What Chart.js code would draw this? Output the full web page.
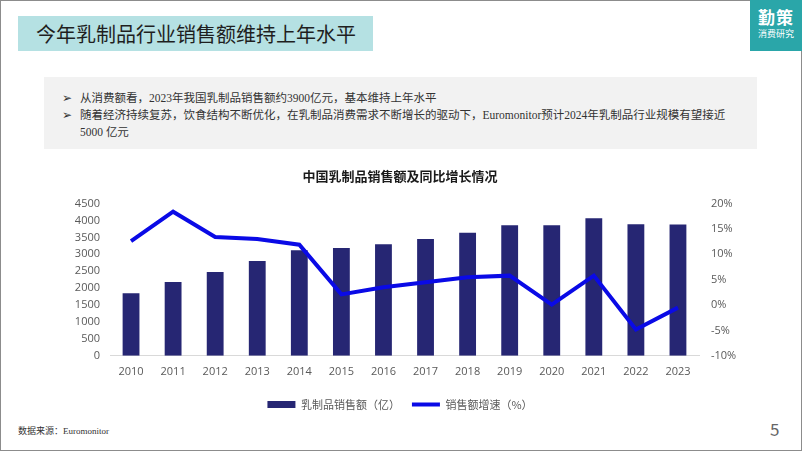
<!DOCTYPE html>
<html>
<head>
<meta charset="utf-8">
<script src="https://cdn.jsdelivr.net/npm/chart.js@4"></script>
<style>
  body { margin: 0; width: 802px; height: 451px; overflow: hidden; background: #fff; font-family: "Noto Sans CJK SC", sans-serif; }
  .slide { position: absolute; left: 0; top: 0; width: 800px; height: 449px; border: 1px solid #8c8c8c; }
  .head { position: absolute; left: 18px; top: 16px; width: 355px; height: 35px; background: #b5e1e3; color: #1f1f1f; font-size: 20px; line-height: 35px; padding-left: 18px; box-sizing: border-box; }
  .logo { position: absolute; left: 750px; top: 0; width: 52px; height: 51px; background: #2aa6a9; color: #fff; text-align: center; }
  .logo b { display: block; font-size: 17px; line-height: 20px; margin-top: 7px; letter-spacing: 1px; }
  .logo span { display: block; font-size: 9px; line-height: 14px; }
  .box { position: absolute; left: 44px; top: 77px; width: 713px; height: 72px; background: #f2f2f2; font-family: "Liberation Serif", "Noto Sans CJK SC", serif; font-size: 11.5px; color: #333; }
  .box p { margin: 0; position: absolute; left: 36px; line-height: 17px; }
  .box i { font-style: normal; position: absolute; left: -18px; }
  .src { position: absolute; left: 18px; top: 424px; font-size: 9px; color: #333; font-family: "Liberation Serif", "Noto Sans CJK SC", serif; }
  .pg { position: absolute; left: 770px; top: 416px; font-size: 17px; color: #666; }
  #wrap { position: absolute; left: 40px; top: 160px; width: 720px; height: 260px; }
</style>
</head>
<body>
<div class="slide"></div>
<div class="head">今年乳制品行业销售额维持上年水平</div>
<div class="logo"><b>勤策</b><span>消费研究</span></div>
<div class="box">
  <p style="top:13px"><i>➢</i>从消费额看，2023年我国乳制品销售额约3900亿元，基本维持上年水平</p>
  <p style="top:30px"><i>➢</i>随着经济持续复苏，饮食结构不断优化，在乳制品消费需求不断增长的驱动下，Euromonitor预计2024年乳制品行业规模有望接近<br>5000 亿元</p>
</div>
<div id="wrap"><canvas id="salesChart"></canvas></div>
<div class="src">数据来源：Euromonitor</div>
<div class="pg">5</div>
<script>
const years = ["2010","2011","2012","2013","2014","2015","2016","2017","2018","2019","2020","2021","2022","2023"];
const sales = [1850, 2180, 2480, 2800, 3120, 3190, 3300, 3450, 3640, 3860, 3860, 4070, 3890, 3880];
const growth = [12.6, 18.4, 13.4, 13.0, 11.9, 2.1, 3.5, 4.5, 5.5, 5.8, 0.1, 5.8, -4.8, -0.5];
const salesLabel = "乳制品销售额（亿）";
const growthLabel = "销售额增速（%）";

const tickColor = "#595959";
const tickFont = { family: "Open Sans, Noto Sans CJK SC", size: 11 };

new Chart(document.getElementById("salesChart"), {
  data: {
    labels: years,
    datasets: [
      {
        type: "line",
        label: growthLabel,
        data: growth,
        yAxisID: "y1",
        borderColor: "#0a0ae6",
        backgroundColor: "#0a0ae6",
        borderWidth: 4,
        pointRadius: 0,
        pointStyle: "line",
        tension: 0,
        order: 0
      },
      {
        type: "bar",
        label: salesLabel,
        data: sales,
        yAxisID: "y",
        backgroundColor: "#262673",
        pointStyle: "rect",
        barPercentage: 0.4,
        categoryPercentage: 1,
        order: 1
      }
    ]
  },
  options: {
    responsive: true,
    maintainAspectRatio: false,
    animation: false,
    plugins: {
      title: {
        display: true,
        text: "中国乳制品销售额及同比增长情况",
        color: "#1a1a1a",
        font: { family: "Noto Sans CJK SC", size: 13, weight: "bold" },
        padding: { top: 8, bottom: 20 }
      },
      legend: {
        position: "bottom",
        reverse: true,
        labels: {
          color: tickColor,
          usePointStyle: true,
          pointStyleWidth: 28,
          boxWidth: 28,
          boxHeight: 7,
          padding: 12,
          font: { family: "Noto Sans CJK SC", size: 11 }
        }
      },
      tooltip: { enabled: false }
    },
    scales: {
      x: {
        grid: { display: false, drawTicks: false },
        border: { color: "#d9d9d9" },
        ticks: { color: tickColor, font: tickFont, padding: 9 }
      },
      y: {
        position: "left",
        min: 0,
        max: 4500,
        grid: { display: false, drawTicks: false },
        border: { display: false },
        ticks: { stepSize: 500, color: tickColor, font: tickFont, padding: 10, callback: v => String(v) },
        afterFit: s => { s.width = 70; }
      },
      y1: {
        position: "right",
        min: -10,
        max: 20,
        grid: { display: false, drawTicks: false },
        border: { display: false },
        ticks: { stepSize: 5, color: tickColor, font: tickFont, padding: 12, callback: v => v + "%" },
        afterFit: s => { s.width = 61; }
      }
    }
  }
});
</script>
</body>
</html>
